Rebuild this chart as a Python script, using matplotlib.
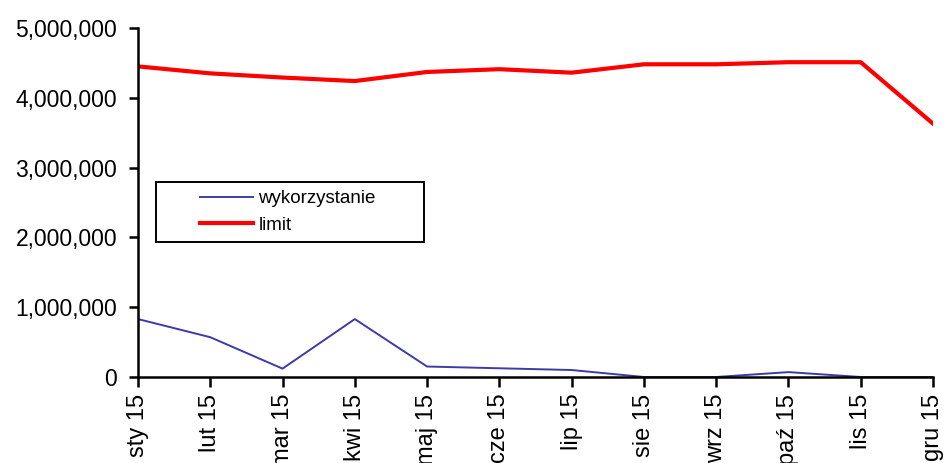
import matplotlib
matplotlib.use("Agg")
import numpy as np
import matplotlib.pyplot as plt
from matplotlib.ticker import FuncFormatter, MultipleLocator
from matplotlib.legend_handler import HandlerLine2D

plt.rcParams['font.family'] = ['Liberation Sans', 'DejaVu Sans']

months = ["sty 15", "lut 15", "mar 15", "kwi 15", "maj 15", "cze 15",
          "lip 15", "sie 15", "wrz 15", "paź 15", "lis 15", "gru 15"]
wykorzystanie = [830000, 570000, 120000, 830000, 150000, 125000,
                 100000, 0, 0, 70000, 0, 0]
limit = [4450000, 4350000, 4290000, 4240000, 4370000, 4410000,
         4360000, 4480000, 4480000, 4510000, 4510000, 3630000]


class OffsetLineHandler(HandlerLine2D):
    """Legend line drawn only in the right part of the handle box."""
    def get_xdata(self, legend, xdescent, ydescent, width, height, fontsize):
        x0 = -xdescent + width * 0.405
        x1 = -xdescent + width
        return np.array([x0, x1]), np.array([x0, x1])


fig = plt.figure(figsize=(9.47, 4.63), dpi=100)
ax = fig.add_axes([138/947, 86/463, (933-138)/947, (377-28)/463])

x = list(range(len(months)))
l1, = ax.plot(x, wykorzystanie, color="#3c3ca8", lw=1.4, label="wykorzystanie")
l2, = ax.plot(x, limit, color="#ff0000", lw=3, label="limit")

ax.set_xlim(0, len(months) - 1)
ax.set_ylim(0, 5000000)
ax.yaxis.set_major_locator(MultipleLocator(1000000))
ax.yaxis.set_major_formatter(FuncFormatter(lambda v, p: f"{int(v):,}"))
ax.set_xticks(x)
ax.set_xticklabels(months, rotation=90, va="top", ha="center")

for s in ("top", "right"):
    ax.spines[s].set_visible(False)
for s in ("left", "bottom"):
    ax.spines[s].set_linewidth(1.8)
    ax.spines[s].set_color("black")
ax.tick_params(axis="y", labelsize=16.5, length=6.5, width=1.8, pad=8.5, direction="out")
ax.tick_params(axis="x", labelsize=17, length=7, width=1.8, pad=5, direction="out")

handler = OffsetLineHandler()
leg = ax.legend(handles=[l1, l2], loc="upper left",
                bbox_to_anchor=(0.0226, 0.395, 0.337, 0.164),
                mode="expand", borderaxespad=0,
                handler_map={l1: handler, l2: handler},
                fancybox=False, edgecolor="black", framealpha=1, fontsize=13.5,
                handlelength=4.7, handletextpad=0.32, borderpad=0.45,
                labelspacing=0.5)
leg.get_frame().set_linewidth(1.4)

fig.savefig("out.png", dpi=100)
